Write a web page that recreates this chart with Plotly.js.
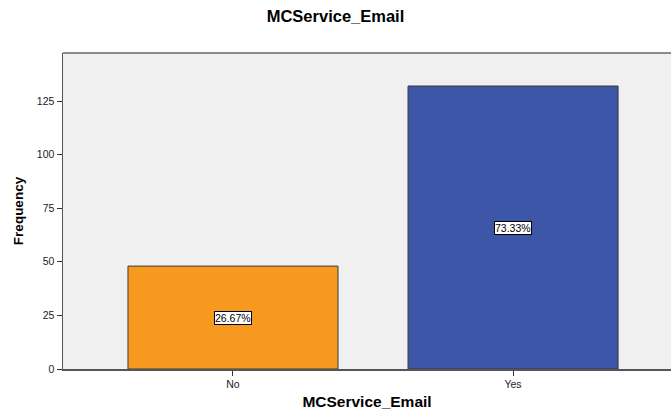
<!DOCTYPE html>
<html><head><meta charset="utf-8">
<script src="https://cdn.plot.ly/plotly-3.0.1.min.js"></script>
<style>body{margin:0;background:#fff}</style>
</head><body>
<div id="chart" style="width:671px;height:412px"></div>
<script>
const categories = ["No", "Yes"];
const frequencies = [48, 132];
const percentLabels = ["26.67%", "73.33%"];
const barColors = ["#F7991F", "#3E56A8"];

const trace = {
  type: "bar",
  x: categories,
  y: frequencies,
  width: 0.75,
  marker: {color: barColors, line: {color: "#3a3a3a", width: 1}},
  hoverinfo: "x+y"
};

const annotations = categories.map((c, i) => ({
  x: c, y: frequencies[i] / 2, xref: "x", yref: "y",
  text: percentLabels[i], showarrow: false,
  font: {family: "Liberation Sans, Arial, sans-serif", size: 10.5, color: "#000"},
  bgcolor: "#ffffff", bordercolor: "#000", borderwidth: 1, borderpad: 0
}));

const layout = {
  width: 671, height: 412,
  margin: {l: 63, r: 0, t: 53, b: 43},
  paper_bgcolor: "#ffffff",
  plot_bgcolor: "#F0F0F0",
  title: {text: "<b>MCService_Email</b>", x: 0.5, xanchor: "center", y: 0.961, yanchor: "middle",
          font: {family: "Liberation Sans, Arial, sans-serif", size: 16.5, color: "#000"}},
  xaxis: {
    range: [-0.607, 1.564],
    showline: true, linecolor: "#555", linewidth: 1.5, mirror: false,
    ticks: "outside", ticklen: 5, tickcolor: "#333",
    tickfont: {family: "Liberation Sans, Arial, sans-serif", size: 10.5, color: "#222"},
    title: {text: "<b>MCService_Email</b>", standoff: 7,
            font: {family: "Liberation Sans, Arial, sans-serif", size: 15.5, color: "#000"}},
    showgrid: false, zeroline: false, fixedrange: true
  },
  yaxis: {
    range: [0, 147.4],
    tickvals: [0, 25, 50, 75, 100, 125],
    showline: true, linecolor: "#555", linewidth: 1.5,
    ticks: "outside", ticklen: 5, tickcolor: "#333",
    tickfont: {family: "Liberation Sans, Arial, sans-serif", size: 10.5, color: "#222"},
    title: {text: "<b>Frequency</b>", standoff: 10,
            font: {family: "Liberation Sans Narrow, Arial Narrow, sans-serif", size: 13.5, color: "#000"}},
    showgrid: false, zeroline: false, fixedrange: true
  },
  shapes: [{type: "line", xref: "paper", yref: "paper", x0: 0, x1: 1, y0: 1, y1: 1,
            line: {color: "#666", width: 1.5}}],
  annotations: annotations,
  showlegend: false,
  bargap: 0.25
};

Plotly.newPlot("chart", [trace], layout, {displayModeBar: false, staticPlot: true});
</script>
</body></html>
